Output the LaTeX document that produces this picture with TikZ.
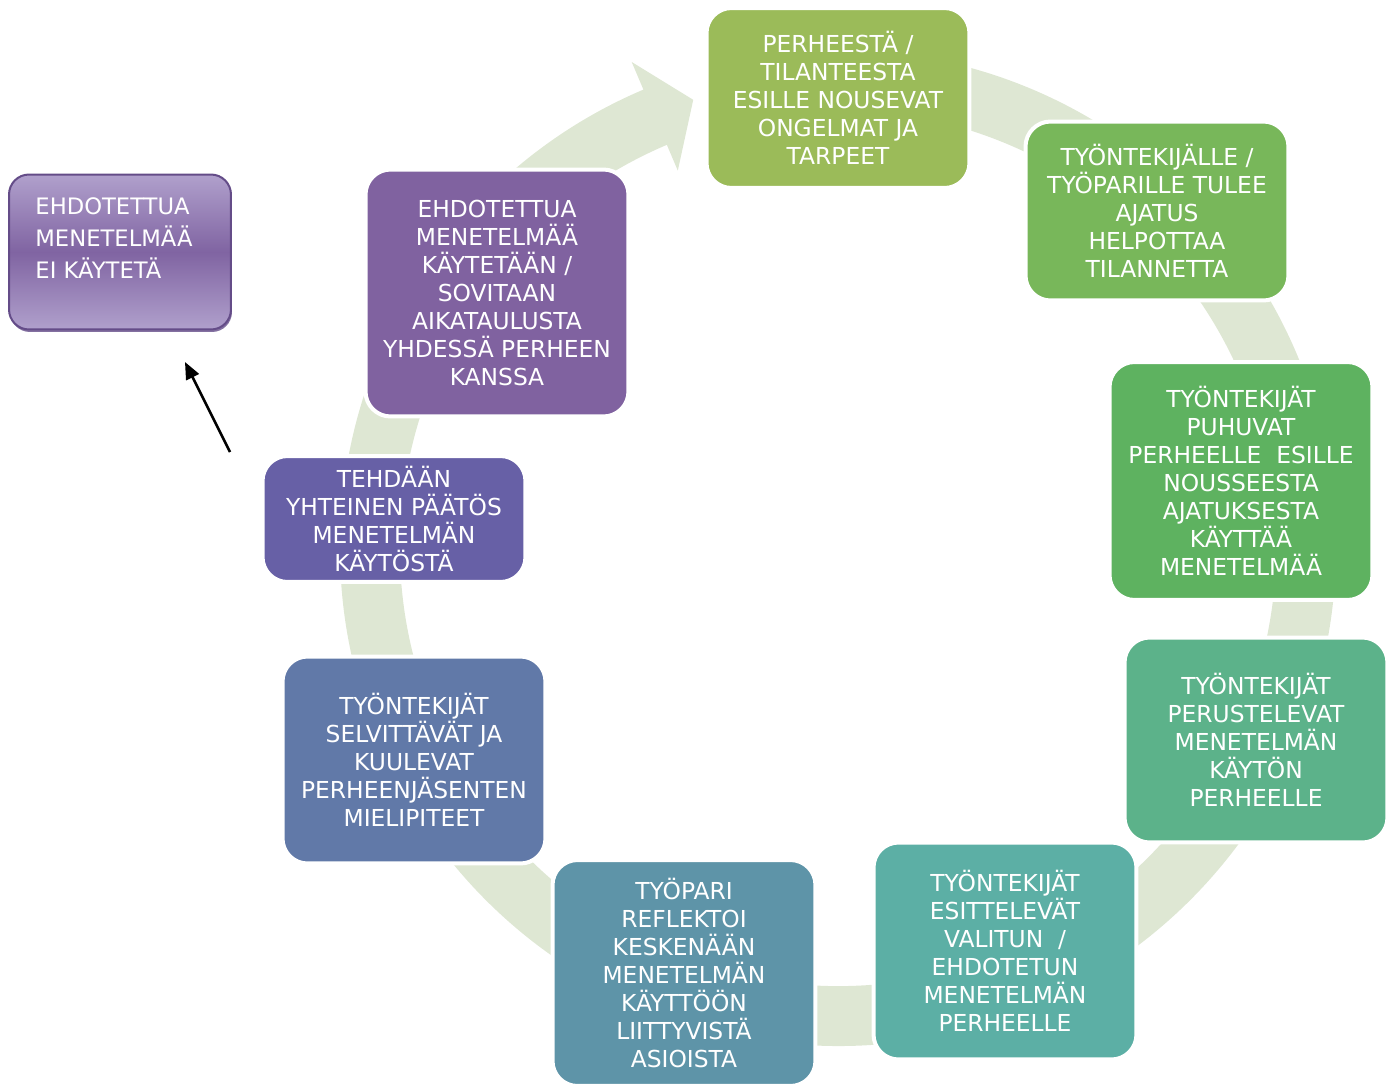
\documentclass[tikz,border=0pt]{standalone}
\usepackage{fontspec}
\setmainfont{DejaVu Sans}
\usetikzlibrary{arrows.meta, shadows}

\definecolor{ringgreen}{RGB}{222,231,211}
\definecolor{stepone}{RGB}{155,187,89}
\definecolor{steptwo}{RGB}{120,183,90}
\definecolor{stepthree}{RGB}{94,178,96}
\definecolor{stepfour}{RGB}{92,178,138}
\definecolor{stepfive}{RGB}{92,175,165}
\definecolor{stepsix}{RGB}{94,148,168}
\definecolor{stepseven}{RGB}{97,121,168}
\definecolor{stepeight}{RGB}{103,96,166}
\definecolor{stepnine}{RGB}{128,98,160}
\definecolor{sidelight}{RGB}{176,160,204}
\definecolor{sidemid}{RGB}{128,100,162}
\definecolor{sidedark}{RGB}{100,76,136}

\begin{document}
\begin{tikzpicture}[x=0.02cm, y=-0.02cm,
    phase/.style = {draw=white, line width=0.08cm, rounded corners=0.5cm, minimum width=5.26cm, inner sep=0pt, align=center, text=white, font=\fontsize{13.3}{15.9}\selectfont},
    sidebox/.style = {draw=sidedark, line width=0.04cm, rounded corners=0.4cm, minimum width=4.44cm, minimum height=3.1cm, inner sep=0pt, align=left, text=white, top color=sidelight, bottom color=sidelight, middle color=sidemid, font=\fontsize{12.9}{18.1}\selectfont, drop shadow={shadow xshift=0.02cm, shadow yshift=-0.05cm, fill=sidedark, opacity=0.8}}]
    \useasboundingbox (0,0) rectangle (1387,1086);

    % kehanuoli
    \begin{scope}[shift={(838,548)}]
        \fill[ringgreen] (-85:498) arc[start angle=-85, end angle=247, radius=498] -- (247:528) -- (252.1:471) -- (247:410) -- (247:438) arc[start angle=247, end angle=-85, radius=438] -- cycle;
    \end{scope}

    \node[phase, fill=stepone, minimum height=3.6cm] at (838,98) (ongelmat) {PERHEESTÄ /\\TILANTEESTA\\ESILLE NOUSEVAT\\ONGELMAT JA\\TARPEET};
    \node[phase, fill=steptwo, minimum height=3.58cm] at (1157,211) (ajatus) {TYÖNTEKIJÄLLE /\\TYÖPARILLE TULEE\\AJATUS\\HELPOTTAA\\TILANNETTA};
    \node[phase, fill=stepthree, minimum height=4.76cm] at (1241,481) (puhuvat) {TYÖNTEKIJÄT\\PUHUVAT\\PERHEELLE \ ESILLE\\NOUSSEESTA\\AJATUKSESTA\\KÄYTTÄÄ\\MENETELMÄÄ};
    \node[phase, fill=stepfour, minimum height=4.1cm] at (1256,740) (perustelevat) {TYÖNTEKIJÄT\\PERUSTELEVAT\\MENETELMÄN\\KÄYTÖN\\PERHEELLE};
    \node[phase, fill=stepfive, minimum height=4.34cm] at (1005,951) (esittelevat) {TYÖNTEKIJÄT\\ESITTELEVÄT\\VALITUN \ /\\EHDOTETUN\\MENETELMÄN\\PERHEELLE};
    \node[phase, fill=stepsix, minimum height=4.52cm] at (684,973) (reflektoi) {TYÖPARI\\REFLEKTOI\\KESKENÄÄN\\MENETELMÄN\\KÄYTTÖÖN\\LIITTYVISTÄ\\ASIOISTA};
    \node[phase, fill=stepseven, minimum height=4.14cm] at (414,760) (kuulevat) {TYÖNTEKIJÄT\\SELVITTÄVÄT JA\\KUULEVAT\\PERHEENJÄSENTEN\\MIELIPITEET};
    \node[phase, fill=stepeight, minimum height=2.52cm] at (394,519) (paatos) {TEHDÄÄN\\YHTEINEN PÄÄTÖS\\MENETELMÄN\\KÄYTÖSTÄ};
    \node[phase, fill=stepnine, minimum height=4.94cm] at (497,293) (kaytetaan) {EHDOTETTUA\\MENETELMÄÄ\\KÄYTETÄÄN /\\SOVITAAN\\AIKATAULUSTA\\YHDESSÄ PERHEEN\\KANSSA};

    \node[sidebox, text depth=0.55cm] at (120,252) (eikaytetta) {EHDOTETTUA\\MENETELMÄÄ\rule{0.24cm}{0pt}\\EI KÄYTETÄ};

    \coordinate (nuolialku) at (230,452);
    \coordinate (nuolikarki) at (185,362);
    \draw[-{Triangle[length=0.34cm, width=0.28cm]}, line width=0.05cm] (nuolialku) -- (nuolikarki);
\end{tikzpicture}
\end{document}
